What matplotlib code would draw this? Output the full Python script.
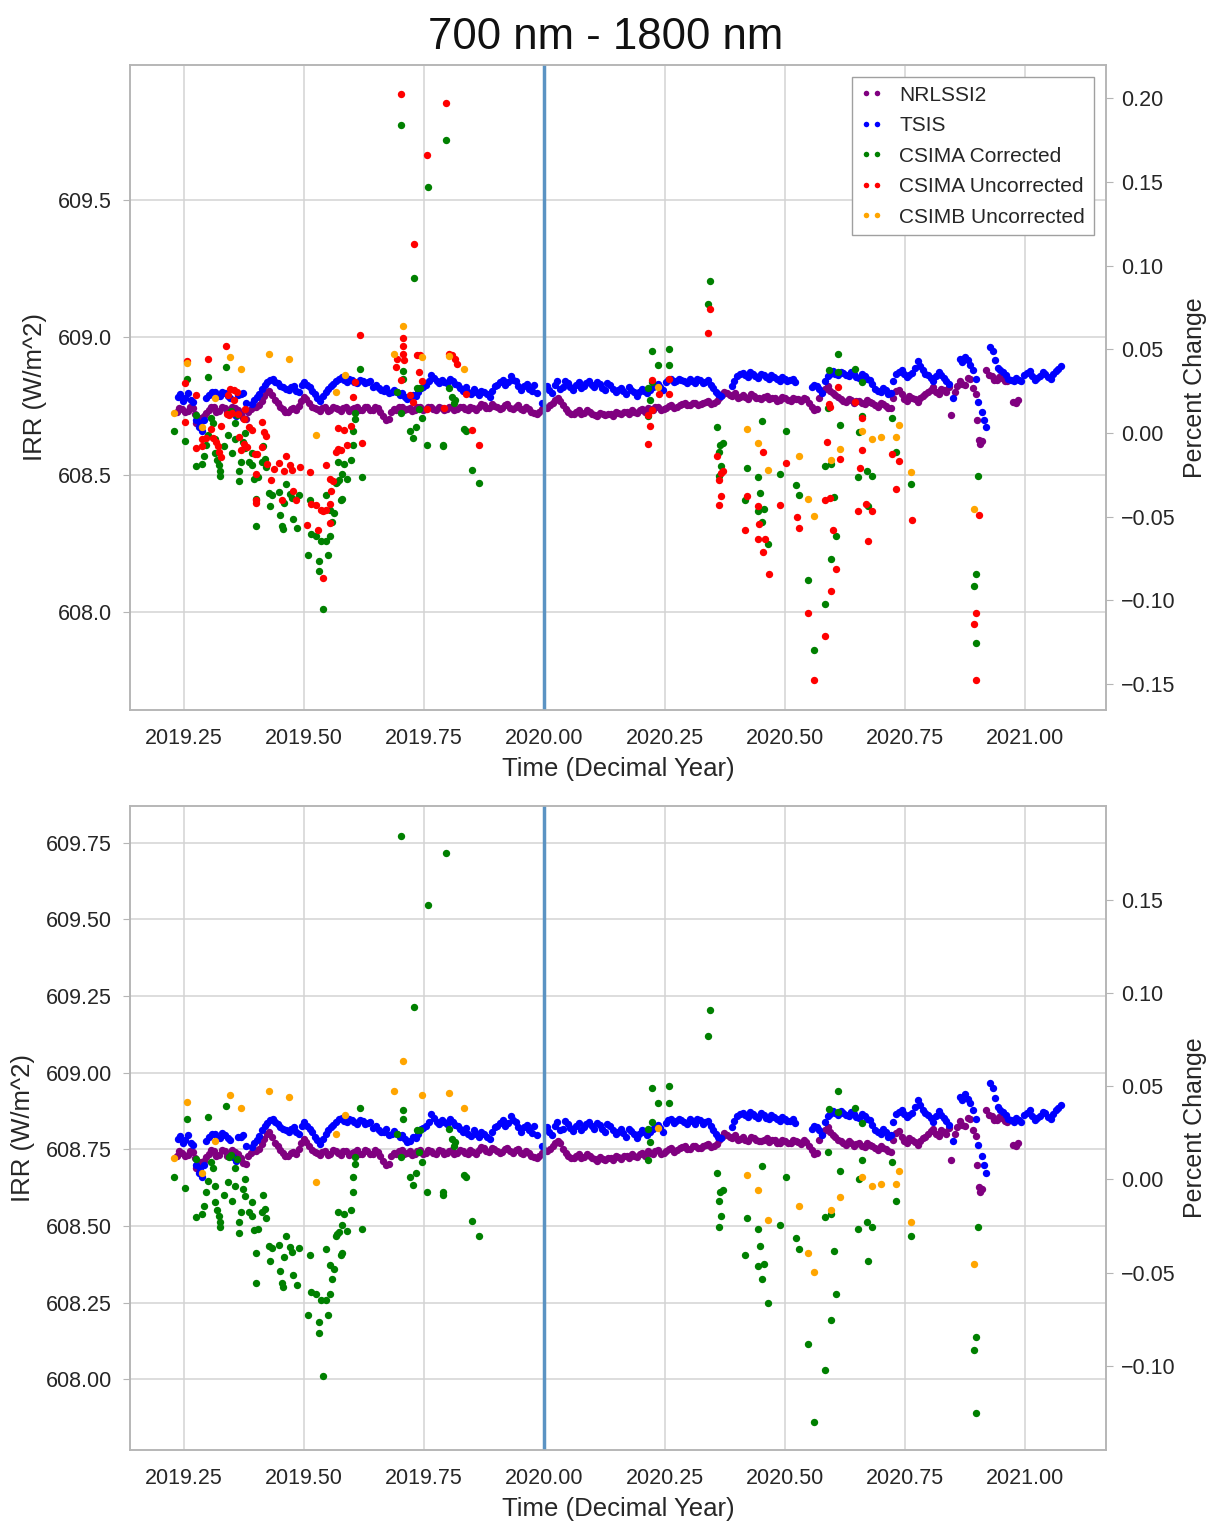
import numpy as np
import matplotlib
matplotlib.use('Agg')
import matplotlib.pyplot as plt
from matplotlib.ticker import FixedLocator, FuncFormatter

plt.rcParams['font.family'] = ['Liberation Sans', 'DejaVu Sans']

# (decimal year, irradiance W/m^2)
nrlssi2 = [
    (2019.236, 608.728), (2019.247, 608.740), (2019.258, 608.732), (2019.269, 608.742), (2019.276, 608.688),
    (2019.280, 608.700), (2019.291, 608.712), (2019.302, 608.735), (2019.313, 608.745), (2019.324, 608.733),
    (2019.335, 608.744), (2019.346, 608.736), (2019.357, 608.742), (2019.368, 608.722), (2019.379, 608.702),
    (2019.390, 608.738), (2019.401, 608.745), (2019.412, 608.768), (2019.423, 608.800), (2019.434, 608.790),
    (2019.445, 608.760), (2019.456, 608.738), (2019.467, 608.728), (2019.478, 608.742), (2019.489, 608.750),
    (2019.500, 608.784), (2019.511, 608.760), (2019.522, 608.742), (2019.533, 608.732), (2019.544, 608.745),
    (2019.555, 608.736), (2019.566, 608.744), (2019.577, 608.733), (2019.588, 608.746), (2019.599, 608.738),
    (2019.610, 608.748), (2019.621, 608.736), (2019.632, 608.745), (2019.643, 608.734), (2019.654, 608.742),
    (2019.665, 608.712), (2019.676, 608.704), (2019.687, 608.738), (2019.698, 608.746), (2019.709, 608.734),
    (2019.720, 608.744), (2019.731, 608.736), (2019.742, 608.748), (2019.753, 608.738), (2019.764, 608.746),
    (2019.775, 608.735), (2019.786, 608.744), (2019.797, 608.738), (2019.808, 608.748), (2019.819, 608.740),
    (2019.830, 608.745), (2019.841, 608.736), (2019.852, 608.742), (2019.863, 608.748), (2019.874, 608.754),
    (2019.885, 608.742), (2019.896, 608.750), (2019.907, 608.738), (2019.918, 608.752), (2019.929, 608.744),
    (2019.940, 608.748), (2019.951, 608.740), (2019.962, 608.746), (2019.973, 608.728), (2019.984, 608.722),
    (2019.995, 608.738), (2020.006, 608.744), (2020.017, 608.762), (2020.028, 608.778), (2020.039, 608.752),
    (2020.050, 608.730), (2020.061, 608.722), (2020.072, 608.734), (2020.083, 608.726), (2020.094, 608.730),
    (2020.105, 608.718), (2020.116, 608.724), (2020.127, 608.716), (2020.138, 608.722), (2020.149, 608.730),
    (2020.160, 608.720), (2020.171, 608.728), (2020.182, 608.734), (2020.193, 608.726), (2020.204, 608.738),
    (2020.215, 608.744), (2020.226, 608.736), (2020.237, 608.748), (2020.248, 608.740), (2020.259, 608.750),
    (2020.270, 608.742), (2020.281, 608.754), (2020.292, 608.760), (2020.303, 608.752), (2020.314, 608.762),
    (2020.325, 608.756), (2020.336, 608.764), (2020.347, 608.758), (2020.358, 608.768), (2020.369, 608.790),
    (2020.380, 608.798), (2020.391, 608.786), (2020.402, 608.780), (2020.413, 608.790), (2020.424, 608.776),
    (2020.435, 608.786), (2020.446, 608.778), (2020.457, 608.782), (2020.468, 608.774), (2020.479, 608.780),
    (2020.490, 608.772), (2020.501, 608.778), (2020.512, 608.770), (2020.523, 608.776), (2020.534, 608.768),
    (2020.545, 608.774), (2020.556, 608.748), (2020.567, 608.740), (2020.578, 608.800), (2020.589, 608.822),
    (2020.600, 608.796), (2020.611, 608.782), (2020.622, 608.770), (2020.633, 608.776), (2020.644, 608.762),
    (2020.655, 608.770), (2020.666, 608.758), (2020.677, 608.766), (2020.688, 608.754), (2020.699, 608.762),
    (2020.710, 608.750), (2020.721, 608.742), (2020.732, 608.805), (2020.743, 608.792), (2020.754, 608.770),
    (2020.765, 608.780), (2020.776, 608.766), (2020.787, 608.786), (2020.798, 608.800), (2020.809, 608.818),
    (2020.820, 608.795), (2020.831, 608.808), (2020.842, 608.820), (2020.846, 608.716), (2020.853, 608.800),
    (2020.864, 608.842), (2020.875, 608.828), (2020.886, 608.850), (2020.897, 608.795), (2020.900, 608.700),
    (2020.903, 608.628), (2020.906, 608.612), (2020.910, 608.622), (2020.919, 608.880), (2020.930, 608.858),
    (2020.941, 608.846), (2020.952, 608.852), (2020.963, 608.840), (2020.975, 608.766), (2020.985, 608.772),
    # in-between days
    (2019.241, 608.744), (2019.252, 608.728), (2019.263, 608.745), (2019.274, 608.722), (2019.285, 608.708),
    (2019.296, 608.726), (2019.307, 608.748), (2019.318, 608.730), (2019.329, 608.748), (2019.340, 608.730),
    (2019.351, 608.748), (2019.362, 608.734), (2019.373, 608.706), (2019.384, 608.728), (2019.395, 608.748),
    (2019.406, 608.752), (2019.417, 608.785), (2019.428, 608.806), (2019.439, 608.772), (2019.450, 608.748),
    (2019.461, 608.730), (2019.472, 608.740), (2019.483, 608.735), (2019.494, 608.770), (2019.505, 608.775),
    (2019.516, 608.748), (2019.527, 608.740), (2019.538, 608.742), (2019.549, 608.732), (2019.560, 608.748),
    (2019.571, 608.738), (2019.582, 608.744), (2019.593, 608.732), (2019.604, 608.742), (2019.615, 608.734),
    (2019.626, 608.748), (2019.637, 608.736), (2019.648, 608.748), (2019.659, 608.730), (2019.670, 608.700),
    (2019.681, 608.728), (2019.692, 608.734), (2019.703, 608.748), (2019.714, 608.738), (2019.725, 608.732),
    (2019.736, 608.746), (2019.747, 608.734), (2019.758, 608.748), (2019.769, 608.738), (2019.780, 608.748),
    (2019.791, 608.734), (2019.802, 608.746), (2019.813, 608.736), (2019.824, 608.748), (2019.835, 608.738),
    (2019.846, 608.748), (2019.857, 608.736), (2019.868, 608.758), (2019.879, 608.744), (2019.890, 608.756),
    (2019.901, 608.746), (2019.912, 608.742), (2019.923, 608.756), (2019.934, 608.738), (2019.945, 608.752),
    (2019.956, 608.736), (2019.967, 608.738), (2019.978, 608.724), (2019.989, 608.730), (2020.000, 608.748),
    (2020.011, 608.752), (2020.022, 608.772), (2020.033, 608.770), (2020.044, 608.740), (2020.055, 608.722),
    (2020.066, 608.730), (2020.077, 608.722), (2020.088, 608.736), (2020.099, 608.722), (2020.110, 608.712),
    (2020.121, 608.720), (2020.132, 608.722), (2020.143, 608.714), (2020.154, 608.724), (2020.165, 608.730),
    (2020.176, 608.722), (2020.187, 608.728), (2020.198, 608.734), (2020.209, 608.730), (2020.220, 608.740),
    (2020.231, 608.746), (2020.242, 608.736), (2020.253, 608.744), (2020.264, 608.754), (2020.275, 608.748),
    (2020.286, 608.758), (2020.297, 608.752), (2020.308, 608.760), (2020.319, 608.754), (2020.330, 608.762),
    (2020.341, 608.768), (2020.352, 608.760), (2020.363, 608.780), (2020.374, 608.802), (2020.385, 608.790),
    (2020.396, 608.796), (2020.407, 608.784), (2020.418, 608.782), (2020.429, 608.792), (2020.440, 608.780),
    (2020.451, 608.776), (2020.462, 608.786), (2020.473, 608.780), (2020.484, 608.770), (2020.495, 608.782),
    (2020.506, 608.772), (2020.517, 608.780), (2020.528, 608.774), (2020.539, 608.780), (2020.550, 608.762),
    (2020.561, 608.736), (2020.572, 608.780), (2020.583, 608.812), (2020.594, 608.806), (2020.605, 608.790),
    (2020.616, 608.776), (2020.627, 608.764), (2020.638, 608.772), (2020.649, 608.768), (2020.660, 608.762),
    (2020.671, 608.772), (2020.682, 608.760), (2020.693, 608.748), (2020.704, 608.756), (2020.715, 608.744),
    (2020.726, 608.780), (2020.737, 608.810), (2020.748, 608.776), (2020.759, 608.786), (2020.770, 608.774),
    (2020.781, 608.778), (2020.792, 608.792), (2020.803, 608.810), (2020.814, 608.800), (2020.825, 608.812),
    (2020.836, 608.800), (2020.858, 608.822), (2020.869, 608.830), (2020.880, 608.852), (2020.891, 608.815),
    (2020.924, 608.862), (2020.935, 608.846), (2020.946, 608.856), (2020.957, 608.842), (2020.980, 608.762),
]

tsis = [
    (2019.237, 608.784), (2019.248, 608.770), (2019.259, 608.796), (2019.270, 608.765), (2019.276, 608.700),
    (2019.281, 608.672), (2019.287, 608.660), (2019.292, 608.700), (2019.303, 608.790), (2019.314, 608.800),
    (2019.325, 608.786), (2019.336, 608.798), (2019.347, 608.780), (2019.352, 608.726), (2019.358, 608.712),
    (2019.369, 608.792), (2019.380, 608.760), (2019.391, 608.758), (2019.402, 608.782), (2019.413, 608.812),
    (2019.424, 608.836), (2019.435, 608.850), (2019.446, 608.832), (2019.457, 608.818), (2019.468, 608.808),
    (2019.479, 608.822), (2019.490, 608.800), (2019.501, 608.838), (2019.512, 608.818), (2019.523, 608.792),
    (2019.534, 608.768), (2019.545, 608.800), (2019.556, 608.822), (2019.567, 608.840), (2019.578, 608.854),
    (2019.589, 608.838), (2019.600, 608.846), (2019.611, 608.832), (2019.622, 608.842), (2019.633, 608.836),
    (2019.644, 608.820), (2019.655, 608.814), (2019.666, 608.806), (2019.677, 608.798), (2019.688, 608.810),
    (2019.699, 608.790), (2019.710, 608.784), (2019.721, 608.778), (2019.732, 608.788), (2019.743, 608.816),
    (2019.754, 608.828), (2019.765, 608.864), (2019.776, 608.840), (2019.787, 608.846), (2019.798, 608.832),
    (2019.809, 608.840), (2019.820, 608.826), (2019.831, 608.806), (2019.842, 608.800), (2019.853, 608.812),
    (2019.864, 608.790), (2019.875, 608.800), (2019.886, 608.784), (2019.897, 608.822), (2019.908, 608.836),
    (2019.919, 608.826), (2019.930, 608.858), (2019.941, 608.840), (2019.952, 608.808), (2019.963, 608.830),
    (2019.974, 608.804), (2019.985, 608.796), (2019.994, 608.762), (2020.005, 608.822), (2020.016, 608.798),
    (2020.027, 608.840), (2020.038, 608.818), (2020.049, 608.832), (2020.060, 608.810), (2020.071, 608.836),
    (2020.082, 608.822), (2020.093, 608.840), (2020.104, 608.818), (2020.115, 608.830), (2020.126, 608.808),
    (2020.137, 608.826), (2020.148, 608.800), (2020.159, 608.816), (2020.170, 608.792), (2020.181, 608.810),
    (2020.192, 608.788), (2020.203, 608.812), (2020.214, 608.798), (2020.225, 608.818), (2020.236, 608.830),
    (2020.247, 608.808), (2020.258, 608.846), (2020.269, 608.836), (2020.280, 608.850), (2020.291, 608.840),
    (2020.302, 608.848), (2020.313, 608.834), (2020.324, 608.846), (2020.335, 608.838), (2020.346, 608.826),
    (2020.357, 608.800), (2020.368, 608.786), (2020.390, 608.822), (2020.401, 608.860), (2020.412, 608.870),
    (2020.423, 608.856), (2020.434, 608.866), (2020.445, 608.852), (2020.456, 608.862), (2020.467, 608.848),
    (2020.478, 608.856), (2020.489, 608.842), (2020.500, 608.850), (2020.511, 608.844), (2020.522, 608.836),
    (2020.556, 608.818), (2020.567, 608.824), (2020.578, 608.796), (2020.589, 608.860), (2020.600, 608.876),
    (2020.611, 608.862), (2020.622, 608.870), (2020.633, 608.858), (2020.644, 608.866), (2020.655, 608.852),
    (2020.666, 608.860), (2020.677, 608.846), (2020.688, 608.812), (2020.699, 608.800), (2020.710, 608.808),
    (2020.721, 608.796), (2020.732, 608.866), (2020.743, 608.880), (2020.754, 608.856), (2020.765, 608.870),
    (2020.776, 608.912), (2020.787, 608.880), (2020.798, 608.862), (2020.809, 608.840), (2020.820, 608.874),
    (2020.831, 608.852), (2020.842, 608.830), (2020.850, 608.778), (2020.864, 608.920), (2020.875, 608.930),
    (2020.886, 608.900), (2020.897, 608.850), (2020.902, 608.766), (2020.910, 608.730), (2020.914, 608.700),
    (2020.918, 608.672), (2020.926, 608.966), (2020.932, 608.950), (2020.943, 608.890), (2020.954, 608.872),
    (2020.965, 608.850), (2020.976, 608.840), (2020.987, 608.846), (2020.998, 608.862), (2021.009, 608.878),
    (2021.020, 608.845), (2021.031, 608.858), (2021.042, 608.868), (2021.053, 608.850), (2021.064, 608.878),
    (2021.075, 608.896),
    # in-between days
    (2019.242, 608.795), (2019.253, 608.780), (2019.264, 608.772), (2019.284, 608.690), (2019.297, 608.778),
    (2019.308, 608.800), (2019.319, 608.788), (2019.330, 608.802), (2019.341, 608.786), (2019.363, 608.790),
    (2019.374, 608.796), (2019.396, 608.772), (2019.407, 608.794), (2019.418, 608.828), (2019.429, 608.846),
    (2019.440, 608.838), (2019.451, 608.824), (2019.462, 608.812), (2019.473, 608.818), (2019.484, 608.806),
    (2019.495, 608.826), (2019.506, 608.828), (2019.517, 608.806), (2019.528, 608.780), (2019.539, 608.785),
    (2019.550, 608.812), (2019.561, 608.830), (2019.572, 608.848), (2019.583, 608.844), (2019.594, 608.850),
    (2019.605, 608.838), (2019.616, 608.846), (2019.627, 608.832), (2019.638, 608.840), (2019.649, 608.826),
    (2019.660, 608.808), (2019.671, 608.816), (2019.682, 608.800), (2019.693, 608.800), (2019.704, 608.796),
    (2019.715, 608.774), (2019.726, 608.790), (2019.737, 608.800), (2019.748, 608.820), (2019.759, 608.840),
    (2019.770, 608.852), (2019.781, 608.834), (2019.792, 608.838), (2019.803, 608.848), (2019.814, 608.830),
    (2019.825, 608.816), (2019.836, 608.820), (2019.847, 608.794), (2019.858, 608.800), (2019.869, 608.806),
    (2019.880, 608.792), (2019.891, 608.806), (2019.902, 608.826), (2019.913, 608.846), (2019.924, 608.836),
    (2019.935, 608.846), (2019.946, 608.824), (2019.957, 608.822), (2019.968, 608.812), (2019.979, 608.826),
    (2020.010, 608.808), (2020.021, 608.828), (2020.032, 608.812), (2020.043, 608.842), (2020.054, 608.820),
    (2020.065, 608.826), (2020.076, 608.814), (2020.087, 608.834), (2020.098, 608.826), (2020.109, 608.836),
    (2020.120, 608.816), (2020.131, 608.832), (2020.142, 608.812), (2020.153, 608.808), (2020.164, 608.804),
    (2020.175, 608.818), (2020.186, 608.800), (2020.197, 608.800), (2020.208, 608.806), (2020.219, 608.808),
    (2020.230, 608.822), (2020.241, 608.820), (2020.252, 608.836), (2020.263, 608.848), (2020.274, 608.842),
    (2020.285, 608.846), (2020.296, 608.834), (2020.307, 608.842), (2020.318, 608.850), (2020.329, 608.832),
    (2020.340, 608.844), (2020.351, 608.814), (2020.362, 608.792), (2020.395, 608.842), (2020.406, 608.866),
    (2020.417, 608.862), (2020.428, 608.872), (2020.439, 608.858), (2020.450, 608.868), (2020.461, 608.854),
    (2020.472, 608.862), (2020.483, 608.850), (2020.494, 608.856), (2020.505, 608.842), (2020.516, 608.850),
    (2020.561, 608.826), (2020.572, 608.812), (2020.583, 608.840), (2020.594, 608.866), (2020.605, 608.868),
    (2020.616, 608.874), (2020.627, 608.862), (2020.638, 608.872), (2020.649, 608.856), (2020.660, 608.866),
    (2020.671, 608.850), (2020.682, 608.830), (2020.693, 608.806), (2020.704, 608.816), (2020.715, 608.792),
    (2020.726, 608.840), (2020.737, 608.872), (2020.748, 608.866), (2020.759, 608.862), (2020.770, 608.890),
    (2020.781, 608.896), (2020.792, 608.868), (2020.803, 608.852), (2020.814, 608.858), (2020.825, 608.862),
    (2020.836, 608.842), (2020.869, 608.910), (2020.880, 608.916), (2020.891, 608.880), (2020.937, 608.918),
    (2020.948, 608.880), (2020.959, 608.862), (2020.970, 608.846), (2020.981, 608.852), (2020.992, 608.840),
    (2021.003, 608.870), (2021.014, 608.860), (2021.025, 608.852), (2021.036, 608.872), (2021.047, 608.856),
    (2021.058, 608.866), (2021.069, 608.884),
]

csima_corr = [
    (2019.229, 608.659), (2019.252, 608.623), (2019.256, 608.849), (2019.275, 608.719), (2019.275, 608.531),
    (2019.287, 608.540), (2019.292, 608.567), (2019.297, 608.610), (2019.301, 608.646), (2019.301, 608.856),
    (2019.306, 608.708), (2019.310, 608.688), (2019.315, 608.632), (2019.315, 608.578), (2019.320, 608.553),
    (2019.323, 608.534), (2019.325, 608.515), (2019.325, 608.497), (2019.333, 608.603), (2019.337, 608.892),
    (2019.341, 608.643), (2019.344, 608.724), (2019.348, 608.732), (2019.351, 608.581), (2019.356, 608.632),
    (2019.356, 608.688), (2019.360, 608.719), (2019.364, 608.513), (2019.364, 608.476), (2019.368, 608.547),
    (2019.373, 608.621), (2019.378, 608.653), (2019.377, 608.599), (2019.386, 608.547), (2019.391, 608.578),
    (2019.391, 608.534), (2019.396, 608.486), (2019.404, 608.491), (2019.400, 608.412), (2019.400, 608.314),
    (2019.414, 608.603), (2019.413, 608.545), (2019.419, 608.556), (2019.422, 608.527), (2019.427, 608.434),
    (2019.429, 608.385), (2019.434, 608.428), (2019.449, 608.439), (2019.450, 608.355), (2019.455, 608.314),
    (2019.456, 608.303), (2019.459, 608.399), (2019.463, 608.468), (2019.471, 608.432), (2019.476, 608.415),
    (2019.477, 608.341), (2019.485, 608.307), (2019.490, 608.428), (2019.509, 608.209), (2019.513, 608.407),
    (2019.514, 608.285), (2019.526, 608.277), (2019.531, 608.188), (2019.531, 608.152), (2019.535, 608.258),
    (2019.545, 608.258), (2019.540, 608.011), (2019.545, 608.426), (2019.549, 608.209), (2019.554, 608.277),
    (2019.554, 608.372), (2019.562, 608.361), (2019.558, 608.328), (2019.567, 608.469), (2019.569, 608.475),
    (2019.573, 608.480), (2019.576, 608.407), (2019.580, 608.413), (2019.571, 608.547), (2019.584, 608.540),
    (2019.580, 608.504), (2019.590, 608.484), (2019.597, 608.553), (2019.602, 608.610), (2019.602, 608.659),
    (2019.607, 608.702), (2019.607, 608.724), (2019.616, 608.885), (2019.621, 608.491),
    (2019.694, 608.800), (2019.701, 609.772), (2019.702, 608.724), (2019.706, 608.878), (2019.706, 608.849),
    (2019.720, 608.659), (2019.727, 608.634), (2019.728, 609.216), (2019.732, 608.673), (2019.734, 608.814),
    (2019.741, 608.814), (2019.739, 608.741), (2019.746, 608.708), (2019.756, 608.610), (2019.757, 609.548),
    (2019.789, 608.603), (2019.789, 608.610), (2019.796, 609.717), (2019.801, 608.816), (2019.808, 608.784),
    (2019.811, 608.762), (2019.815, 608.773), (2019.832, 608.667), (2019.836, 608.659), (2019.850, 608.518),
    (2019.863, 608.469),
    (2020.215, 608.715), (2020.215, 608.816), (2020.220, 608.773), (2020.223, 608.949), (2020.223, 608.838),
    (2020.237, 608.900), (2020.259, 608.956), (2020.259, 608.900), (2020.341, 609.120), (2020.345, 609.205),
    (2020.358, 608.673), (2020.363, 608.582), (2020.366, 608.610), (2020.372, 608.617), (2020.368, 608.532),
    (2020.363, 608.497), (2020.421, 608.526), (2020.417, 608.407), (2020.444, 608.491), (2020.448, 608.434),
    (2020.444, 608.370), (2020.457, 608.377), (2020.453, 608.695), (2020.453, 608.328), (2020.466, 608.250),
    (2020.489, 608.504), (2020.502, 608.659), (2020.524, 608.462), (2020.529, 608.426), (2020.548, 608.116),
    (2020.560, 607.862), (2020.584, 608.531), (2020.597, 608.539), (2020.584, 608.031), (2020.589, 608.742),
    (2020.597, 608.194), (2020.602, 608.420), (2020.606, 608.279), (2020.615, 608.681), (2020.611, 608.941),
    (2020.592, 608.881), (2020.611, 608.873), (2020.646, 608.885), (2020.661, 608.836), (2020.652, 608.491),
    (2020.655, 608.654), (2020.661, 608.715), (2020.670, 608.515), (2020.674, 608.385), (2020.682, 608.497),
    (2020.723, 608.708), (2020.732, 608.582), (2020.763, 608.468), (2020.902, 608.497), (2020.898, 608.138),
    (2020.894, 608.095), (2020.898, 607.890),
]

csima_uncorr = [
    (2019.256, 608.914), (2019.252, 608.835), (2019.252, 608.692), (2019.275, 608.789), (2019.301, 608.921),
    (2019.337, 608.968), (2019.275, 608.598), (2019.287, 608.605), (2019.287, 608.632), (2019.296, 608.634),
    (2019.306, 608.668), (2019.311, 608.634), (2019.318, 608.620), (2019.321, 608.605), (2019.328, 608.676),
    (2019.323, 608.583), (2019.328, 608.565), (2019.339, 608.722), (2019.344, 608.719), (2019.350, 608.725),
    (2019.341, 608.791), (2019.346, 608.813), (2019.355, 608.807), (2019.360, 608.801), (2019.355, 608.771),
    (2019.362, 608.722), (2019.365, 608.637), (2019.368, 608.589), (2019.377, 608.740), (2019.375, 608.704),
    (2019.386, 608.674), (2019.391, 608.662), (2019.375, 608.613), (2019.382, 608.601), (2019.398, 608.577),
    (2019.403, 608.575), (2019.401, 608.504), (2019.401, 608.407), (2019.401, 608.399), (2019.413, 608.692),
    (2019.417, 608.656), (2019.420, 608.641), (2019.413, 608.601), (2019.424, 608.541), (2019.431, 608.480),
    (2019.438, 608.522), (2019.448, 608.544), (2019.455, 608.407), (2019.458, 608.513), (2019.463, 608.567),
    (2019.471, 608.535), (2019.476, 608.516), (2019.477, 608.440), (2019.483, 608.407), (2019.491, 608.529),
    (2019.507, 608.316), (2019.512, 608.510), (2019.514, 608.395), (2019.525, 608.389), (2019.530, 608.298),
    (2019.535, 608.371), (2019.540, 608.368), (2019.545, 608.371), (2019.540, 608.126), (2019.545, 608.535),
    (2019.554, 608.486), (2019.554, 608.395), (2019.557, 608.440), (2019.560, 608.477), (2019.554, 608.326),
    (2019.566, 608.583), (2019.571, 608.593), (2019.576, 608.589), (2019.571, 608.670), (2019.584, 608.662),
    (2019.590, 608.607), (2019.598, 608.676), (2019.602, 608.783), (2019.607, 608.838), (2019.621, 608.614),
    (2019.616, 609.010), (2019.694, 608.922), (2019.702, 609.883), (2019.706, 608.999), (2019.706, 608.968),
    (2019.706, 608.940), (2019.708, 608.916), (2019.692, 608.892), (2019.702, 608.843), (2019.720, 608.789),
    (2019.727, 608.764), (2019.729, 609.339), (2019.734, 608.937), (2019.742, 608.937), (2019.739, 608.874),
    (2019.746, 608.840), (2019.756, 609.662), (2019.756, 608.740), (2019.791, 608.744), (2019.796, 609.852),
    (2019.801, 608.940), (2019.808, 608.934), (2019.815, 608.922), (2019.818, 608.904), (2019.836, 608.795),
    (2019.850, 608.662), (2019.863, 608.607),
    (2020.215, 608.613), (2020.219, 608.676), (2020.215, 608.716), (2020.224, 608.735), (2020.224, 608.843),
    (2020.259, 608.850), (2020.259, 608.795), (2020.238, 608.795), (2020.341, 609.016), (2020.345, 609.101),
    (2020.359, 608.567), (2020.371, 608.513), (2020.367, 608.507), (2020.364, 608.480), (2020.367, 608.423),
    (2020.364, 608.391), (2020.418, 608.298), (2020.422, 608.423), (2020.444, 608.385), (2020.447, 608.322),
    (2020.444, 608.265), (2020.458, 608.265), (2020.454, 608.583), (2020.454, 608.219), (2020.467, 608.140),
    (2020.490, 608.392), (2020.503, 608.543), (2020.526, 608.345), (2020.530, 608.307), (2020.548, 607.999),
    (2020.561, 607.755), (2020.584, 608.407), (2020.588, 608.620), (2020.584, 607.913), (2020.595, 608.417),
    (2020.597, 608.078), (2020.601, 608.298), (2020.607, 608.156), (2020.615, 608.558), (2020.610, 608.819),
    (2020.592, 608.759), (2020.593, 608.747), (2020.647, 608.765), (2020.660, 608.708), (2020.660, 608.589),
    (2020.656, 608.526), (2020.652, 608.369), (2020.669, 608.393), (2020.673, 608.259), (2020.682, 608.369),
    (2020.722, 608.575), (2020.737, 608.550), (2020.731, 608.447), (2020.764, 608.337), (2020.903, 608.353),
    (2020.897, 607.999), (2020.894, 607.958), (2020.897, 607.755),
]

csimb_uncorr = [
    (2019.229, 608.723), (2019.256, 608.906), (2019.287, 608.672), (2019.314, 608.778), (2019.346, 608.928),
    (2019.368, 608.885), (2019.427, 608.941), (2019.468, 608.920), (2019.526, 608.645), (2019.566, 608.800),
    (2019.585, 608.863), (2019.688, 608.941), (2019.706, 609.040), (2019.746, 608.927), (2019.801, 608.933),
    (2019.832, 608.885), (2020.237, 608.821), (2020.421, 608.667), (2020.444, 608.617), (2020.466, 608.519),
    (2020.529, 608.567), (2020.548, 608.412), (2020.560, 608.349), (2020.597, 608.553), (2020.615, 608.595),
    (2020.661, 608.659), (2020.682, 608.631), (2020.701, 608.637), (2020.732, 608.637), (2020.737, 608.680),
    (2020.763, 608.512), (2020.894, 608.377),
]

pct_base = 608.652   # irradiance at 0 percent change
top_ylim = (607.645, 609.99)
bot_ylim = (607.77, 609.87)

series = [
    ('NRLSSI2', nrlssi2, 'purple'),
    ('TSIS', tsis, 'blue'),
    ('CSIMA Corrected', csima_corr, 'green'),
    ('CSIMA Uncorrected', csima_uncorr, 'red'),
    ('CSIMB Uncorrected', csimb_uncorr, 'orange'),
]

grid_c = '#d3d3d3'
spine_c = '#b5b5b5'
txt_c = '#262626'


def pct_fmt(v, pos):
    return f'{v:.2f}'.replace('-', '\u2212')


def draw_panel(ax, ylim, yticks, yfmt, pticks, skip=()):
    for name, pts, col in series:
        if name in skip:
            continue
        t, irr = np.array(pts).T
        ax.plot(t, irr, 'o', color=col, ms=5.3, mew=0, label=name)
    ax.axvline(2020.0, color='#5b93c3', lw=2.5, zorder=5)
    ax.set_xlim(2019.138, 2021.168)
    ax.set_ylim(*ylim)
    ax.xaxis.set_major_locator(FixedLocator(np.arange(2019.25, 2021.01, 0.25)))
    ax.xaxis.set_major_formatter(FuncFormatter(lambda v, p: f'{v:.2f}'))
    ax.yaxis.set_major_locator(FixedLocator(yticks))
    ax.yaxis.set_major_formatter(FuncFormatter(lambda v, p: yfmt.format(v)))
    ax.grid(True, color=grid_c, lw=1.1)
    ax.set_axisbelow(True)
    ax.set_xlabel('Time (Decimal Year)', fontsize=18.5, color=txt_c, labelpad=6)
    ax.set_ylabel('IRR (W/m^2)', fontsize=18.5, color=txt_c, labelpad=8)
    ax.tick_params(labelsize=15.5, colors=txt_c, direction='out', length=5, color=spine_c, pad=8)
    ax.tick_params(axis='x', length=0, pad=13)

    axr = ax.twinx()
    axr.set_ylim((ylim[0] / pct_base - 1) * 100, (ylim[1] / pct_base - 1) * 100)
    axr.yaxis.set_major_locator(FixedLocator(pticks))
    axr.yaxis.set_major_formatter(FuncFormatter(pct_fmt))
    axr.set_ylabel('Percent Change', fontsize=18, color=txt_c, labelpad=5)
    axr.tick_params(labelsize=15.5, colors=txt_c, direction='out', length=5, color=spine_c, pad=6)
    for a in (ax, axr):
        for s in a.spines.values():
            s.set_color(spine_c)
            s.set_linewidth(1.1)
    return axr


fig = plt.figure(figsize=(12.11, 15.21), dpi=100)
ax1 = fig.add_axes([0.1073, 0.5332, 0.806, 0.4241])
ax2 = fig.add_axes([0.1073, 0.0467, 0.806, 0.4234])

draw_panel(ax1, top_ylim, [608.0, 608.5, 609.0, 609.5], '{:.1f}',
           [-0.15, -0.10, -0.05, 0.0, 0.05, 0.10, 0.15, 0.20])
draw_panel(ax2, bot_ylim, np.arange(608.0, 609.76, 0.25), '{:.2f}',
           [-0.10, -0.05, 0.0, 0.05, 0.10, 0.15], skip=('CSIMA Uncorrected',))

leg = ax1.legend(loc='upper right', fontsize=15, numpoints=2, markerscale=0.75,
                 handlelength=1.1, handletextpad=0.8, labelspacing=0.55, fancybox=False,
                 edgecolor='#a0a0a0', framealpha=1, borderaxespad=0.6)
leg.set_zorder(10)
for txt in leg.get_texts():
    txt.set_color(txt_c)

fig.suptitle('700 nm - 1800 nm', fontsize=31.5, y=0.9885, color='#111111')

fig.savefig('out.png', dpi=100)
